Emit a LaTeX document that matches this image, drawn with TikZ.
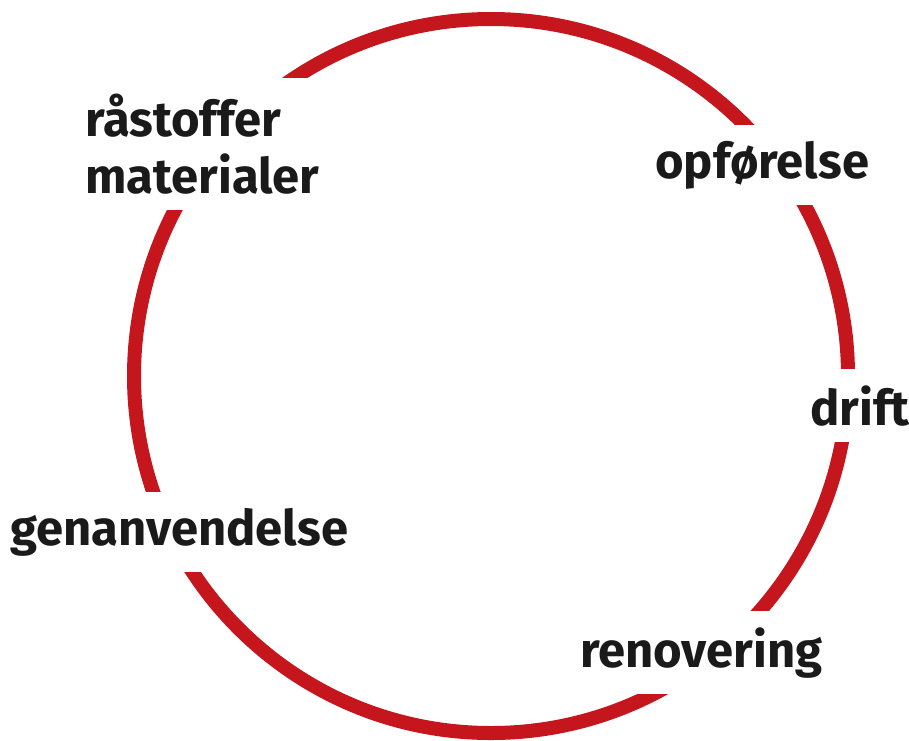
\documentclass[tikz,border=0pt]{standalone}
\usepackage{fontspec}
\setmainfont{Fira Sans}
\usepackage{xcolor}
\usepackage{tikz}
\usetikzlibrary{positioning}
\definecolor{ringred}{HTML}{C4161C}
\definecolor{ink}{HTML}{1A1A1A}
\tikzset{
  ring/.style={draw=ringred,line width=14pt},
  stage/.style={fill=white,text=ink,font=\fontsize{49}{57}\selectfont\bfseries,
    align=left,inner xsep=8pt,inner ysep=16pt},
}

\begin{document}
\begin{tikzpicture}[x=1pt,y=-1pt]
  \useasboundingbox (0,0) rectangle (909,740);
  \path[ring] (491,376) coordinate (m) circle[radius=357pt];
  \node[stage,anchor=west] (raa) at (77,144) {råstoffer\\materialer};
  \node[stage,anchor=base west] (opf) at (647,178) {opførelse};
  \node[stage,anchor=base west] (dri) at (802,425) {drift};
  \node[stage,anchor=base west] (ren) at (572,667) {renovering};
  \node[stage,anchor=base west] (gen) at (2,545) {genanvendelse};
\end{tikzpicture}
\end{document}
